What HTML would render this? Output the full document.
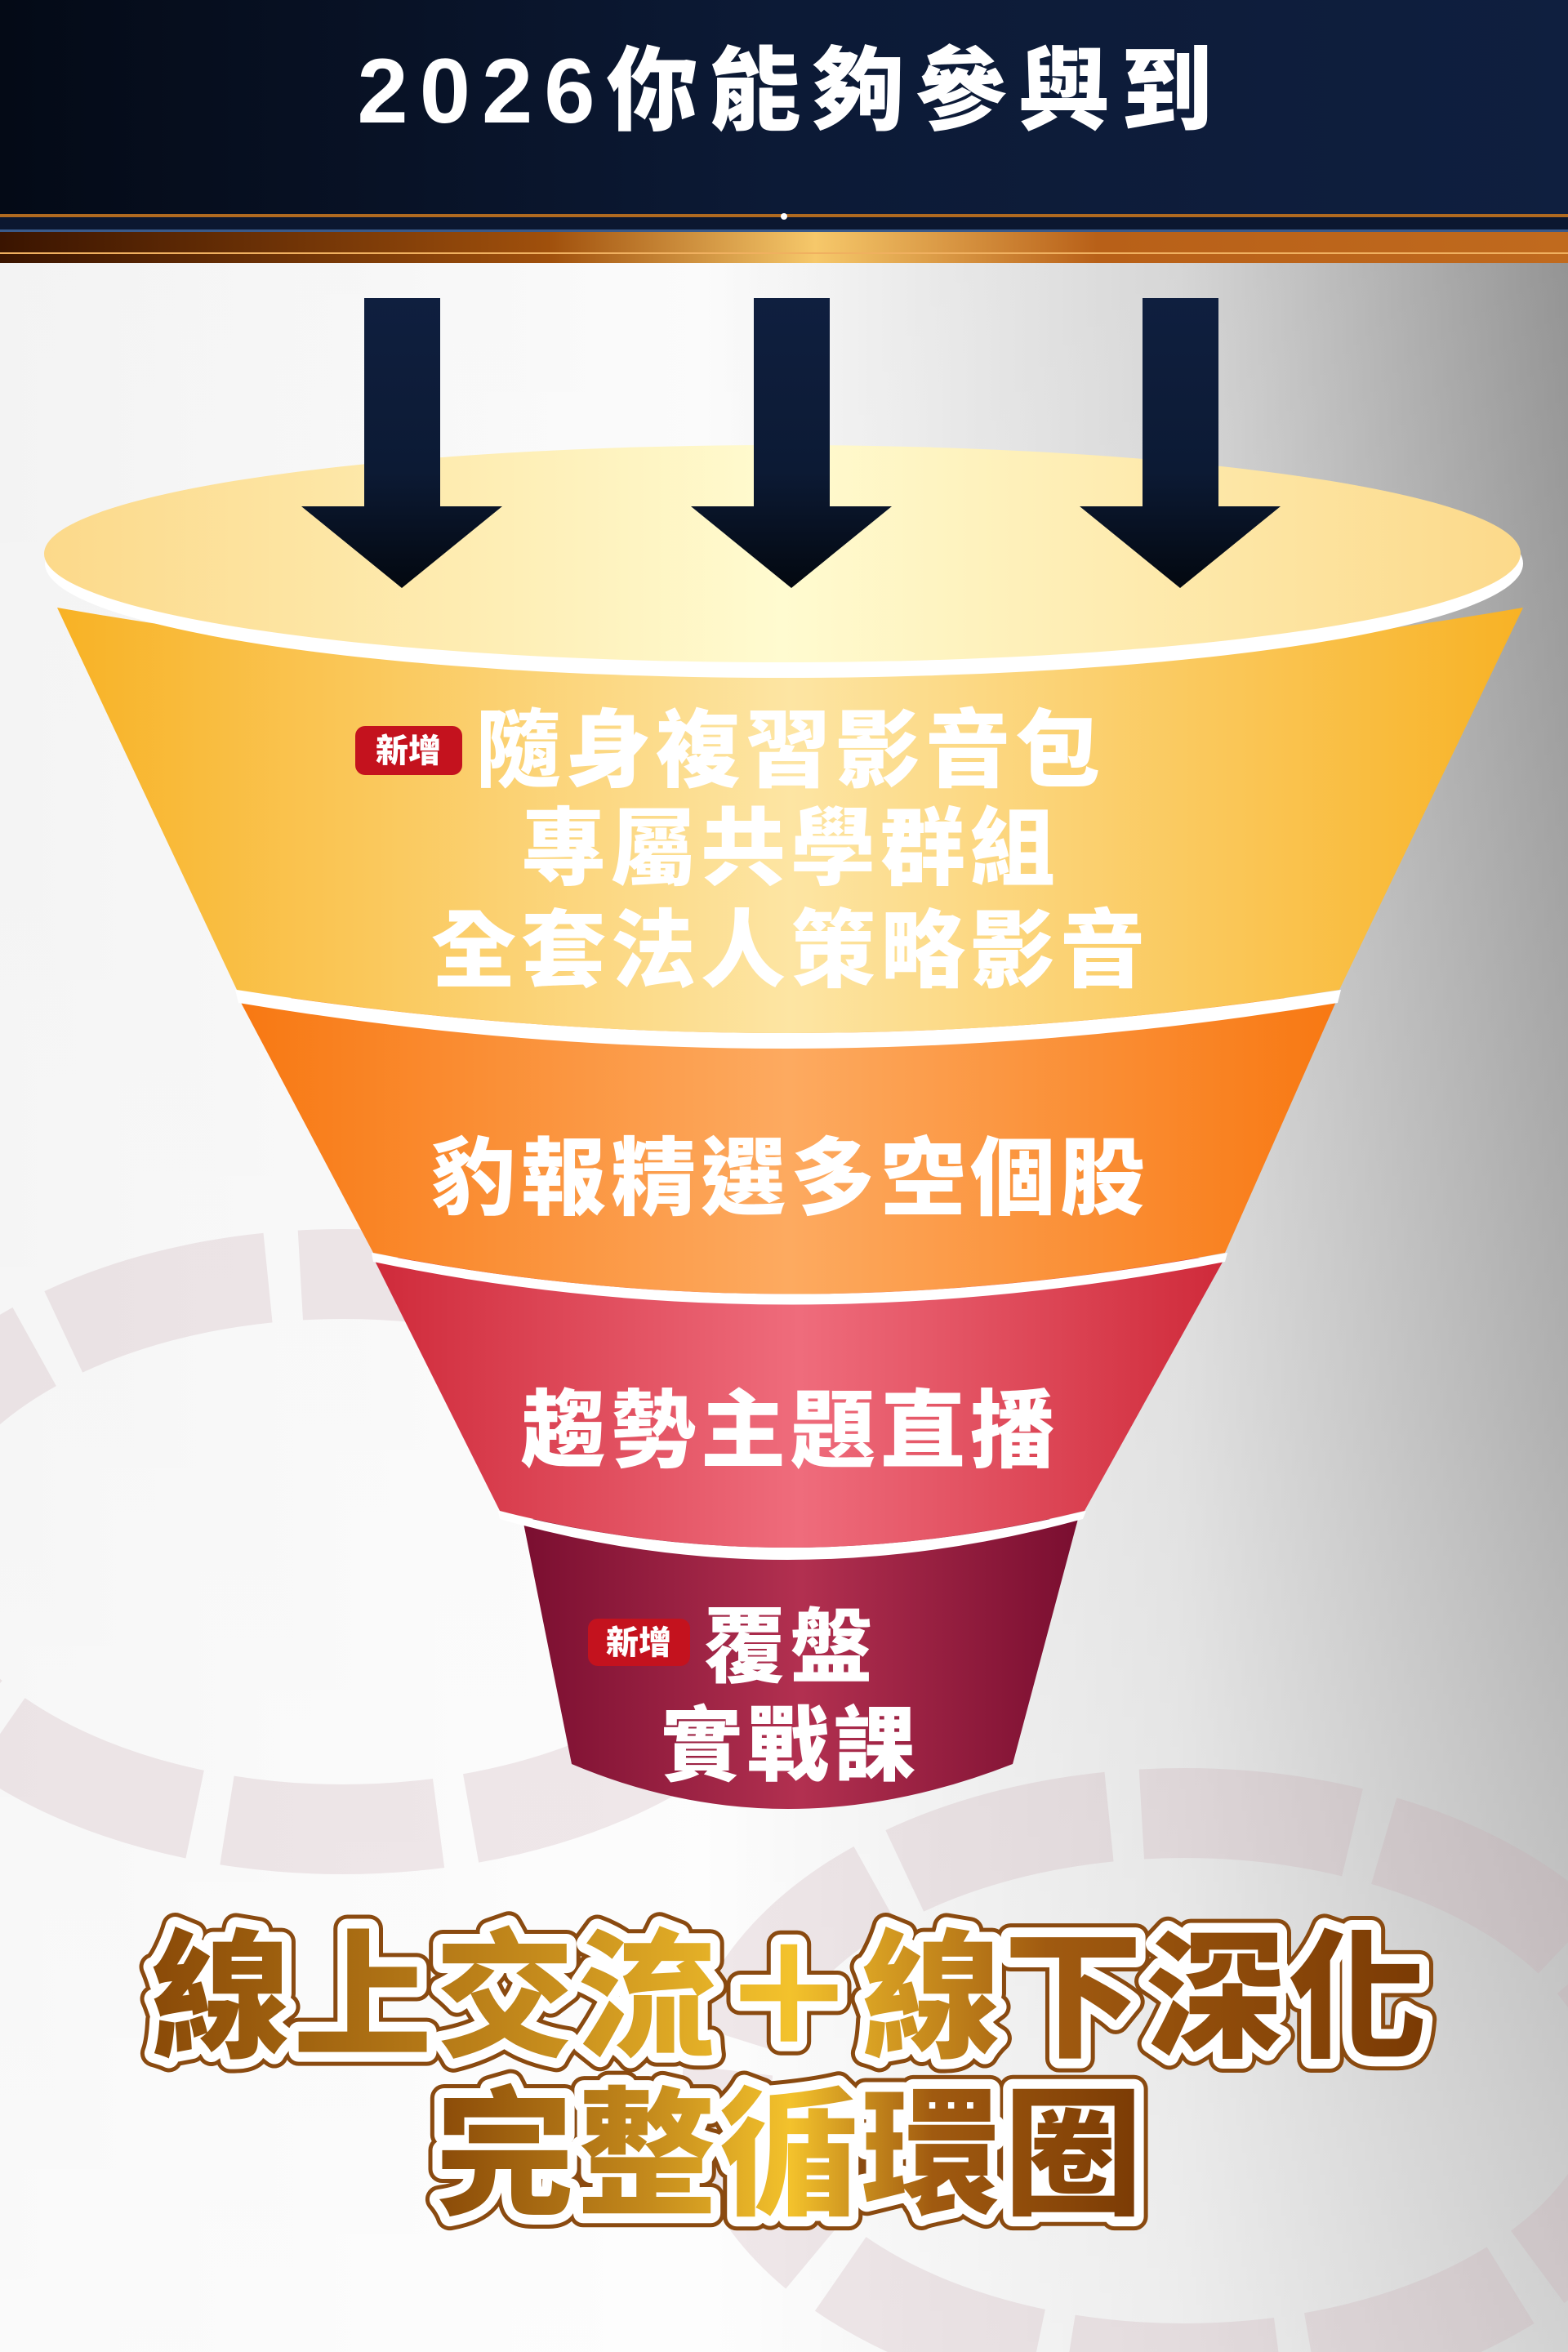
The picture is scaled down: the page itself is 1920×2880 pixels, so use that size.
<!DOCTYPE html>
<html><head><meta charset="utf-8"><style>html,body{margin:0;padding:0;width:1920px;height:2880px;overflow:hidden}svg{display:block}
text{font-family:"Liberation Sans","Noto Sans CJK TC","Noto Sans CJK SC",sans-serif;font-weight:900}</style></head>
<body>
<svg width="1920" height="2880" viewBox="0 0 1920 2880" xmlns="http://www.w3.org/2000/svg">
<defs>
<linearGradient id="bg" x1="0" x2="1" y1="0" y2="0"><stop offset="0" stop-color="#f2f2f2"/><stop offset="0.45" stop-color="#fbfbfb"/><stop offset="0.75" stop-color="#d4d4d4"/><stop offset="1" stop-color="#8e8e8e"/></linearGradient>
<linearGradient id="bgv" x1="0" x2="0" y1="0" y2="1"><stop offset="0" stop-color="#fff" stop-opacity="0"/><stop offset="0.6" stop-color="#fff" stop-opacity="0.3"/><stop offset="1" stop-color="#fff" stop-opacity="0.6"/></linearGradient>
<linearGradient id="hdr" x1="0" x2="1"><stop offset="0" stop-color="#040a16"/><stop offset="0.5" stop-color="#0c1a36"/><stop offset="1" stop-color="#0f1f3f"/></linearGradient>
<linearGradient id="gold" x1="0" x2="1"><stop offset="0" stop-color="#3a1400"/><stop offset="0.35" stop-color="#a0500c"/><stop offset="0.52" stop-color="#f6c86a"/><stop offset="0.7" stop-color="#b86018"/><stop offset="1" stop-color="#c06a1e"/></linearGradient>
<linearGradient id="arr" x1="0" x2="0" y1="0" y2="1"><stop offset="0" stop-color="#0f1f3f"/><stop offset="0.6" stop-color="#0c1a34"/><stop offset="1" stop-color="#030810"/></linearGradient>
<linearGradient id="top" x1="0" x2="1"><stop offset="0" stop-color="#fcd98a"/><stop offset="0.5" stop-color="#fffbd0"/><stop offset="1" stop-color="#fcd98a"/></linearGradient>
<linearGradient id="b1" x1="0" x2="1"><stop offset="0" stop-color="#f8b225"/><stop offset="0.5" stop-color="#fde5a3"/><stop offset="1" stop-color="#f8b225"/></linearGradient>
<linearGradient id="b2" x1="0" x2="1"><stop offset="0" stop-color="#f87812"/><stop offset="0.5" stop-color="#fdaa60"/><stop offset="1" stop-color="#f87812"/></linearGradient>
<linearGradient id="b3" x1="0" x2="1"><stop offset="0" stop-color="#cf2a3a"/><stop offset="0.5" stop-color="#ef6c7c"/><stop offset="1" stop-color="#cf2a3a"/></linearGradient>
<linearGradient id="b4" x1="0" x2="1"><stop offset="0" stop-color="#7a0e30"/><stop offset="0.5" stop-color="#b23050"/><stop offset="1" stop-color="#7a0e30"/></linearGradient>
<linearGradient id="tg" x1="0" x2="1"><stop offset="0" stop-color="#8a4a08"/><stop offset="0.3" stop-color="#c48a1c"/><stop offset="0.5" stop-color="#f3c22c"/><stop offset="0.7" stop-color="#a05a10"/><stop offset="1" stop-color="#7a3a04"/></linearGradient>
</defs>
<rect width="1920" height="2880" fill="url(#bg)"/>
<rect width="1920" height="2880" fill="url(#bgv)"/>
<g fill="none" stroke="#c9a8b0" stroke-opacity="0.25" stroke-width="110" stroke-dasharray="260 40">
<ellipse cx="420" cy="1900" rx="560" ry="340"/>
<ellipse cx="1450" cy="2560" rx="560" ry="340"/>
</g>
<rect width="1920" height="262" fill="url(#hdr)"/>
<rect y="262" width="1920" height="4" fill="#b06a20"/>
<rect y="266" width="1920" height="16" fill="#0b1730"/>
<rect y="281" width="1920" height="3" fill="#3a5a8a"/>
<rect y="284" width="1920" height="38" fill="url(#gold)"/>
<rect y="309" width="1920" height="2" fill="#f0b060"/>
<circle cx="960" cy="265" r="4" fill="#fff"/>
<text x="968" y="150" font-size="112" fill="#fff" text-anchor="middle" letter-spacing="14">2026你能夠參與到</text>
<path d="M640 1860 L1320 1860 L1240 2160 Q960 2270 700 2160 Z" fill="url(#b4)"/>
<path d="M612 1860 Q960 1960 1326 1860 L1330 1850 Q960 1940 610 1850 Z" fill="#fff"/>
<path d="M457 1540 L1500 1540 L1328 1850 Q960 1940 612 1850 Z" fill="url(#b3)"/>
<path d="M457 1545 Q960 1650 1500 1545 L1503 1534 Q960 1635 455 1534 Z" fill="#fff"/>
<path d="M292 1222 L1638 1222 L1500 1534 Q960 1635 457 1534 Z" fill="url(#b2)"/>
<path d="M292 1228 Q960 1340 1638 1228 L1642 1212 Q960 1318 288 1212 Z" fill="#fff"/>
<path d="M70 744 Q960 900 1865 744 L1640 1212 Q960 1318 290 1212 Z" fill="url(#b1)"/>
<ellipse cx="960" cy="690" rx="905" ry="140" fill="#fff"/>
<ellipse cx="958" cy="678" rx="904" ry="133" fill="url(#top)"/>
<g fill="url(#arr)">
<path d="M446 365h93v255h76l-123 100l-123-100h77z"/>
<path d="M923 365h93v255h76l-123 100l-123-100h77z"/>
<path d="M1399 365h93v255h76l-123 100l-123-100h77z"/>
</g>
<rect x="435" y="889" width="131" height="60" rx="12" fill="#c4121e"/>
<text x="500" y="933" font-size="40" fill="#fff" text-anchor="middle">新增</text>
<g font-size="104" fill="#fff" text-anchor="middle" letter-spacing="6">
<text x="968" y="955">隨身複習影音包</text>
<text x="968" y="1075">專屬共學群組</text>
<text x="968" y="1200">全套法人策略影音</text>
<text x="968" y="1479">豹報精選多空個股</text>
<text x="968" y="1788">趨勢主題直播</text>
<text x="968" y="2052" font-size="100">覆盤</text>
<text x="968" y="2172" font-size="100">實戰課</text>
</g>
<rect x="720" y="1982" width="125" height="58" rx="12" fill="#c4121e"/>
<text x="782" y="2025" font-size="40" fill="#fff" text-anchor="middle">新增</text>
<g font-size="170" text-anchor="middle" stroke-linejoin="round" letter-spacing="4">
<text x="968" y="2505" fill="none" stroke="#8a4a10" stroke-width="34">線上交流＋線下深化</text>
<text x="968" y="2505" fill="none" stroke="#fff" stroke-width="24">線上交流＋線下深化</text>
<text x="968" y="2505" fill="url(#tg)">線上交流＋線下深化</text>
<text x="968" y="2698" fill="none" stroke="#8a4a10" stroke-width="34">完整循環圈</text>
<text x="968" y="2698" fill="none" stroke="#fff" stroke-width="24">完整循環圈</text>
<text x="968" y="2698" fill="url(#tg)">完整循環圈</text>
</g>
</svg>
</body></html>
